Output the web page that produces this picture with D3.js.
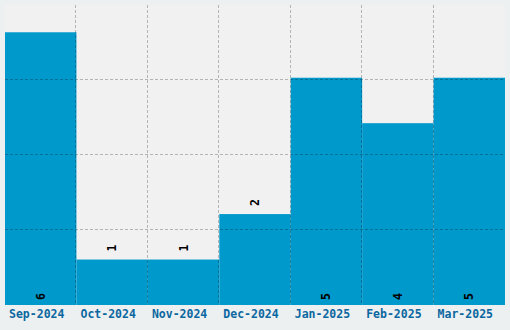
<!DOCTYPE html>
<html>
<head>
<meta charset="utf-8">
<script src="https://cdn.jsdelivr.net/npm/d3@7"></script>
<style>
  html, body { margin: 0; padding: 0; background: #ecf0f1; }
  svg { display: block; }
</style>
</head>
<body>
<svg id="chart"></svg>
<script>
const months = ["Sep-2024", "Oct-2024", "Nov-2024", "Dec-2024", "Jan-2025", "Feb-2025", "Mar-2025"];
const counts = [6, 1, 1, 2, 5, 4, 5];

const width = 510;
const height = 330;
const margin = { top: 5, right: 5, bottom: 25, left: 5 };
const innerW = width - margin.left - margin.right;
const innerH = height - margin.top - margin.bottom;

const svg = d3.select("#chart")
  .attr("width", width)
  .attr("height", height);

const g = svg.append("g").attr("transform", `translate(${margin.left},${margin.top})`);

const x = d3.scaleBand().domain(months).range([0, innerW]).padding(0);
const y = d3.scaleLinear().domain([0, d3.max(counts) * 1.1]).range([innerH, 0]);

g.append("rect")
  .attr("width", innerW)
  .attr("height", innerH)
  .attr("fill", "#f1f1f1");

const data = months.map((m, i) => ({ month: m, value: counts[i] }));

g.selectAll("rect.bar")
  .data(data)
  .join("rect")
  .attr("class", "bar")
  .attr("x", d => x(d.month))
  .attr("y", d => y(d.value))
  .attr("width", x.bandwidth())
  .attr("height", d => innerH - y(d.value))
  .attr("fill", "#0099cc");

// grid on top of bars
const grid = g.append("g")
  .attr("stroke", "rgba(0,0,0,0.25)")
  .attr("stroke-dasharray", "3,2")
  .attr("fill", "none");

[1, 2, 3].forEach(k => {
  const yy = Math.round(innerH * k / 4) - 0.5;
  grid.append("line").attr("x1", 0).attr("x2", innerW).attr("y1", yy).attr("y2", yy);
});

months.slice(1).forEach(m => {
  const xx = Math.round(x(m)) - 0.5;
  grid.append("line").attr("x1", xx).attr("x2", xx).attr("y1", 0).attr("y2", innerH);
});

// value labels
const threshold = d3.max(counts) / 2;
g.selectAll("text.val")
  .data(data)
  .join("text")
  .attr("class", "val")
  .attr("transform", d => {
    const cx = x(d.month) + x.bandwidth() / 2;
    const yy = d.value > threshold ? innerH - 5 : y(d.value) - 8;
    return `translate(${cx},${yy}) rotate(-90)`;
  })
  .attr("dominant-baseline", "central")
  .attr("text-anchor", "start")
  .attr("font-family", "DejaVu Sans Mono, monospace")
  .attr("font-weight", "bold")
  .attr("font-size", 11.5)
  .attr("fill", "#000")
  .text(d => d.value);

// x axis labels
const xAxis = g.append("g")
  .attr("transform", `translate(0,${innerH})`)
  .call(d3.axisBottom(x).tickSize(0).tickPadding(5));
xAxis.select(".domain").remove();
xAxis.selectAll("text")
  .attr("dx", -4)
  .attr("font-family", "DejaVu Sans Mono, monospace")
  .attr("font-weight", "bold")
  .attr("font-size", 11.5)
  .attr("fill", "#0b67a0");
</script>
</body>
</html>
